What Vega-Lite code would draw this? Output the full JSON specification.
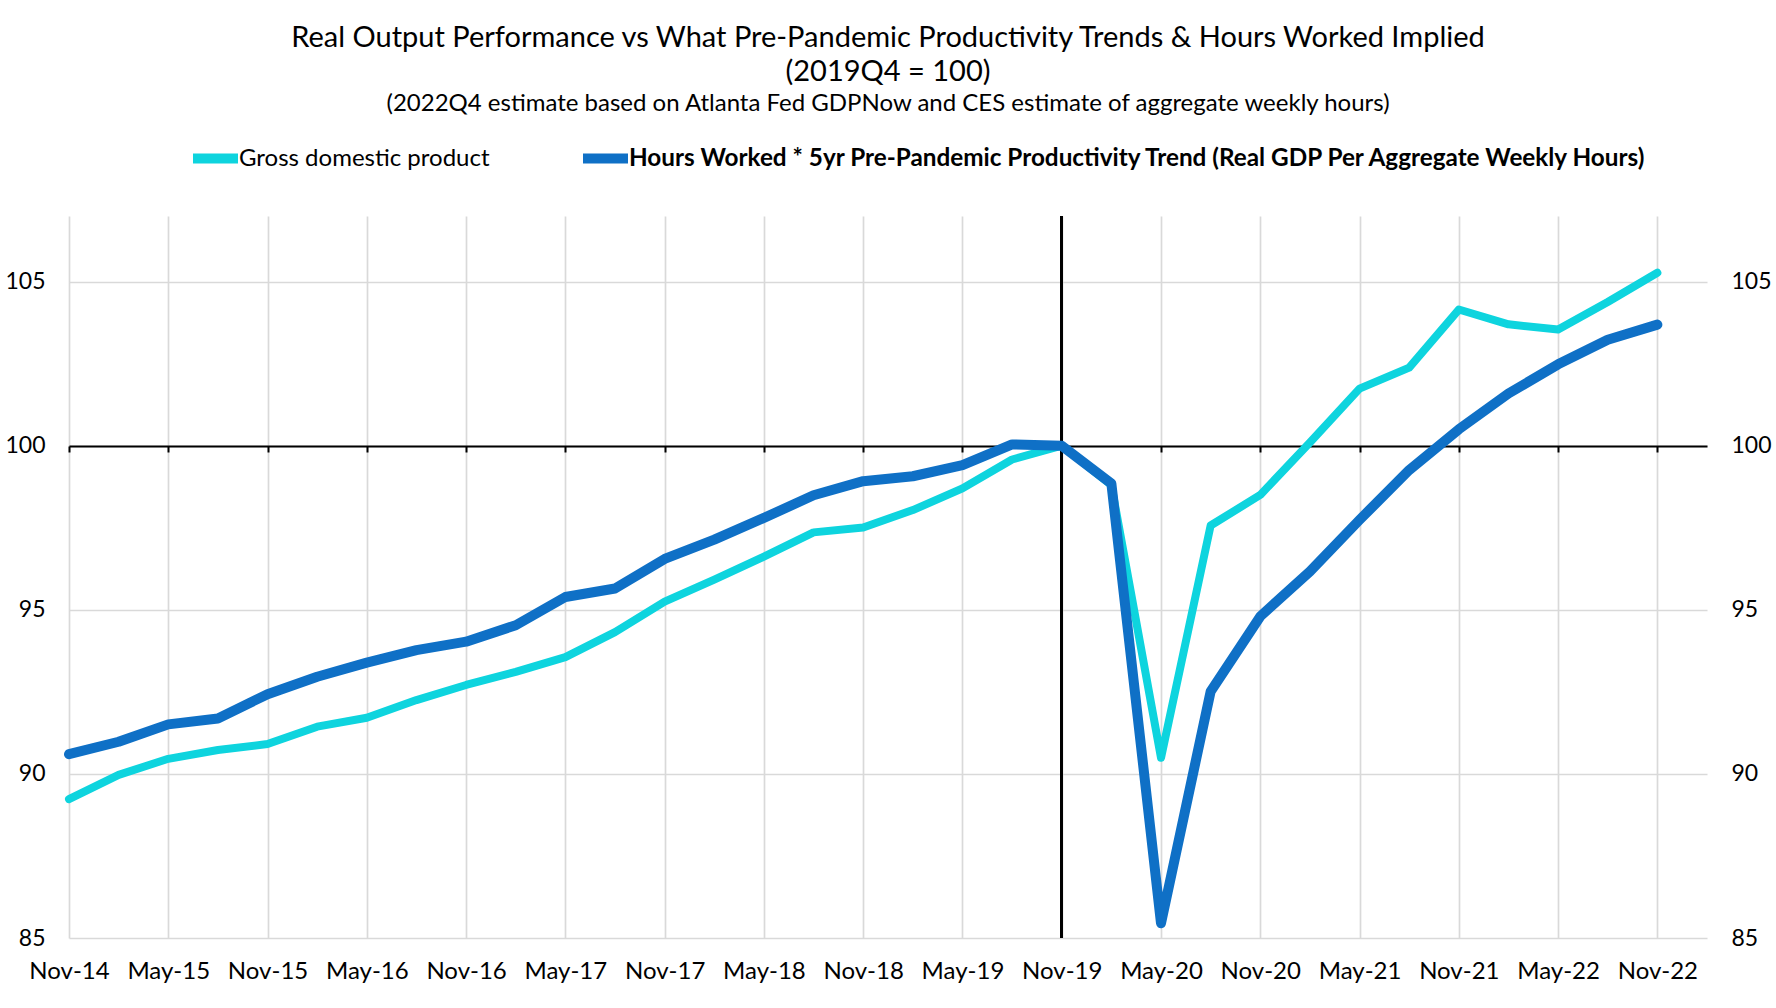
{
  "$schema": "https://vega.github.io/schema/vega-lite/v6.json",
  "description": "Real output vs hours worked times pre-pandemic productivity trend",
  "width": 1638,
  "height": 722,
  "autosize": {"type": "none"},
  "padding": {"left": 69, "top": 216, "right": 69, "bottom": 70},
  "background": "white",
  "title": {
    "text": ["Real Output Performance vs What Pre-Pandemic Productivity Trends & Hours Worked Implied", "(2019Q4 = 100)"],
    "subtitle": "(2022Q4 estimate based on Atlanta Fed GDPNow and CES estimate of aggregate weekly hours)",
    "anchor": "middle",
    "frame": "group",
    "font": "Lato",
    "fontSize": 29,
    "fontWeight": "normal",
    "lineHeight": 34,
    "color": "black",
    "subtitleFont": "Lato",
    "subtitleFontSize": 24,
    "subtitleColor": "black",
    "subtitlePadding": 5,
    "offset": 15
  },
  "data": {
    "values": [
      {"q": 0, "quarter": "2014Q4", "gdp": 89.23, "hours": 90.60},
      {"q": 1, "quarter": "2015Q1", "gdp": 89.97, "hours": 90.98},
      {"q": 2, "quarter": "2015Q2", "gdp": 90.46, "hours": 91.51},
      {"q": 3, "quarter": "2015Q3", "gdp": 90.73, "hours": 91.69},
      {"q": 4, "quarter": "2015Q4", "gdp": 90.91, "hours": 92.43},
      {"q": 5, "quarter": "2016Q1", "gdp": 91.44, "hours": 92.96},
      {"q": 6, "quarter": "2016Q2", "gdp": 91.71, "hours": 93.39},
      {"q": 7, "quarter": "2016Q3", "gdp": 92.25, "hours": 93.77},
      {"q": 8, "quarter": "2016Q4", "gdp": 92.71, "hours": 94.03},
      {"q": 9, "quarter": "2017Q1", "gdp": 93.11, "hours": 94.53},
      {"q": 10, "quarter": "2017Q2", "gdp": 93.56, "hours": 95.39},
      {"q": 11, "quarter": "2017Q3", "gdp": 94.32, "hours": 95.65},
      {"q": 12, "quarter": "2017Q4", "gdp": 95.25, "hours": 96.55},
      {"q": 13, "quarter": "2018Q1", "gdp": 95.92, "hours": 97.14},
      {"q": 14, "quarter": "2018Q2", "gdp": 96.62, "hours": 97.80},
      {"q": 15, "quarter": "2018Q3", "gdp": 97.36, "hours": 98.49},
      {"q": 16, "quarter": "2018Q4", "gdp": 97.51, "hours": 98.92},
      {"q": 17, "quarter": "2019Q1", "gdp": 98.04, "hours": 99.07},
      {"q": 18, "quarter": "2019Q2", "gdp": 98.70, "hours": 99.41},
      {"q": 19, "quarter": "2019Q3", "gdp": 99.58, "hours": 100.04},
      {"q": 20, "quarter": "2019Q4", "gdp": 100.00, "hours": 100.00},
      {"q": 21, "quarter": "2020Q1", "gdp": 98.80, "hours": 98.85},
      {"q": 22, "quarter": "2020Q2", "gdp": 90.49, "hours": 85.45},
      {"q": 23, "quarter": "2020Q3", "gdp": 97.57, "hours": 92.51},
      {"q": 24, "quarter": "2020Q4", "gdp": 98.50, "hours": 94.80},
      {"q": 25, "quarter": "2021Q1", "gdp": 100.10, "hours": 96.17},
      {"q": 26, "quarter": "2021Q2", "gdp": 101.74, "hours": 97.74},
      {"q": 27, "quarter": "2021Q3", "gdp": 102.38, "hours": 99.26},
      {"q": 28, "quarter": "2021Q4", "gdp": 104.15, "hours": 100.50},
      {"q": 29, "quarter": "2022Q1", "gdp": 103.70, "hours": 101.59},
      {"q": 30, "quarter": "2022Q2", "gdp": 103.54, "hours": 102.48},
      {"q": 31, "quarter": "2022Q3", "gdp": 104.38, "hours": 103.23},
      {"q": 32, "quarter": "2022Q4", "gdp": 105.27, "hours": 103.69}
    ]
  },
  "layer": [
    {
      "mark": {"type": "rule", "color": "black", "strokeWidth": 2},
      "encoding": {
        "x": {"datum": 20, "type": "quantitative", "scale": {"domain": [0, 33], "nice": false, "zero": false}, "axis": null}
      }
    },
    {
      "mark": {"type": "line", "color": "#0ED4DE", "strokeWidth": 8, "strokeCap": "round", "strokeJoin": "round"},
      "encoding": {
        "x": {
          "field": "q", "type": "quantitative",
          "scale": {"domain": [0, 33], "nice": false, "zero": false},
          "axis": {
            "title": null,
            "values": [0, 2, 4, 6, 8, 10, 12, 14, 16, 18, 20, 22, 24, 26, 28, 30, 32],
            "labelExpr": "datum.value % 4 == 0 ? 'Nov-' + (14 + datum.value / 4) : 'May-' + (15 + (datum.value - 2) / 4)",
            "grid": true, "gridColor": "#D9D9D9", "gridWidth": 1.7,
            "domain": false, "ticks": false,
            "labelPadding": 21, "labelFont": "Lato", "labelFontSize": 24, "labelColor": "black",
            "labelOverlap": false, "labelFlush": false
          }
        },
        "y": {
          "field": "gdp", "type": "quantitative",
          "scale": {"domain": [85, 107], "nice": false, "zero": false},
          "axis": {
            "title": null, "orient": "left",
            "values": [85, 90, 95, 100, 105],
            "grid": true, "gridColor": "#D9D9D9", "gridWidth": 1.7,
            "domain": false, "ticks": false,
            "labelPadding": 24, "labelFont": "Lato", "labelFontSize": 23, "labelColor": "black"
          }
        },
        "color": {
          "datum": "Gross domestic product",
          "scale": {"range": ["#0ED4DE"]},
          "legend": {
            "orient": "none", "legendX": 119, "legendY": -85, "title": null,
            "symbolType": "stroke", "symbolSize": 2025, "symbolStrokeWidth": 10,
            "labelFont": "Lato", "labelFontSize": 24, "labelColor": "black", "labelOffset": -4, "labelLimit": 1200
          }
        }
      }
    },
    {
      "mark": {"type": "line", "color": "#0F70C6", "strokeWidth": 10, "strokeCap": "round", "strokeJoin": "round"},
      "encoding": {
        "x": {
          "field": "q", "type": "quantitative",
          "scale": {"domain": [0, 33], "nice": false, "zero": false},
          "axis": {
            "title": null, "orient": "bottom", "offset": -492,
            "values": [0, 2, 4, 6, 8, 10, 12, 14, 16, 18, 20, 22, 24, 26, 28, 30, 32],
            "grid": false, "labels": false,
            "domain": true, "domainColor": "black", "domainWidth": 2,
            "ticks": true, "tickColor": "black", "tickWidth": 2, "tickSize": 6
          }
        },
        "y": {
          "field": "hours", "type": "quantitative",
          "scale": {"domain": [85, 107], "nice": false, "zero": false},
          "axis": {
            "title": null, "orient": "right",
            "values": [85, 90, 95, 100, 105],
            "grid": false, "domain": false, "ticks": false,
            "labelPadding": 24, "labelFont": "Lato", "labelFontSize": 23, "labelColor": "black"
          }
        },
        "color": {
          "datum": "Hours Worked * 5yr Pre-Pandemic Productivity Trend (Real GDP Per Aggregate Weekly Hours)",
          "scale": {"range": ["#0F70C6"]},
          "legend": {
            "orient": "none", "legendX": 509, "legendY": -85, "title": null,
            "symbolType": "stroke", "symbolSize": 2025, "symbolStrokeWidth": 10,
            "labelFont": "Lato", "labelFontSize": 24.3, "labelFontWeight": "bold", "labelColor": "black", "labelOffset": -4, "labelLimit": 1400
          }
        }
      }
    }
  ],
  "resolve": {
    "scale": {"color": "independent"},
    "axis": {"x": "independent", "y": "independent"}
  },
  "config": {
    "view": {"stroke": null},
    "font": "Lato"
  }
}
